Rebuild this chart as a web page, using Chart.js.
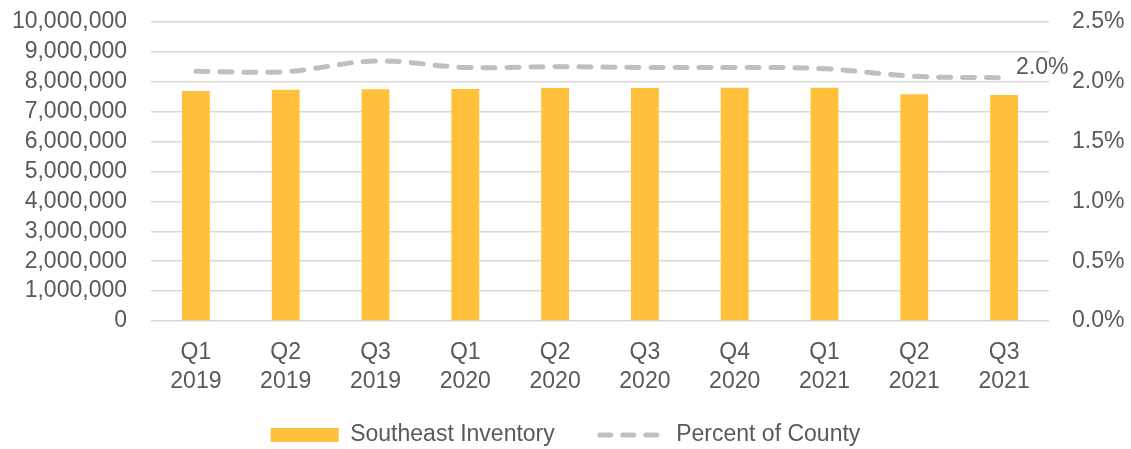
<!DOCTYPE html>
<html>
<head>
<meta charset="utf-8">
<script src="https://cdn.jsdelivr.net/npm/chart.js@4/dist/chart.umd.min.js"></script>
<style>
  html, body { margin: 0; padding: 0; background: #ffffff; }
  #wrap { width: 1131px; height: 449px; }
</style>
</head>
<body>
<div id="wrap"><canvas id="inventoryChart"></canvas></div>
<script>
// Quarter labels (two lines each)
const quarters = ["Q1", "Q2", "Q3", "Q1", "Q2", "Q3", "Q4", "Q1", "Q2", "Q3"];
const years = ["2019", "2019", "2019", "2020", "2020", "2020", "2020", "2021", "2021", "2021"];
// Southeast inventory (sq ft)
const inventory = [7690000, 7730000, 7750000, 7760000, 7790000, 7790000, 7800000, 7800000, 7580000, 7560000];
// Percent of county
const percentOfCounty = [2.088, 2.085, 2.174, 2.12, 2.126, 2.12, 2.12, 2.11, 2.046, 2.034];
const leftTicks = [0, 10000000, 1000000];
const rightTicks = [0, 2.5, 0.5];

const textGrey = "#595959";
const lineGrey = "#BFBFBF";
const fontFamily = "'Liberation Sans', Arial, sans-serif";

// small dashed-line image used as the legend symbol of the line series
const dashSwatch = document.createElement("canvas");
dashSwatch.width = 68;
dashSwatch.height = 8;
(() => {
  const c = dashSwatch.getContext("2d");
  c.strokeStyle = lineGrey;
  c.lineWidth = 5;
  c.lineCap = "round";
  c.setLineDash([11, 12]);
  c.beginPath();
  c.moveTo(3, 4);
  c.lineTo(66, 4);
  c.stroke();
})();

// draws the "2.0%" label beside the last point of the line
const lastPointLabel = {
  id: "lastPointLabel",
  afterDatasetsDraw(chart) {
    const meta = chart.getDatasetMeta(1);
    const pt = meta.data[meta.data.length - 1];
    const ctx = chart.ctx;
    ctx.save();
    ctx.font = "23px " + fontFamily;
    ctx.fillStyle = textGrey;
    ctx.textAlign = "left";
    ctx.textBaseline = "middle";
    const v = percentOfCounty[percentOfCounty.length - 1];
    ctx.fillText(v.toFixed(1) + "%", pt.x + 12, pt.y - 10);
    ctx.restore();
  },
};

new Chart(document.getElementById("inventoryChart"), {
  data: {
    labels: quarters.map((q, i) => [q, years[i]]),
    datasets: [
      {
        type: "bar",
        label: "Southeast Inventory",
        data: inventory,
        backgroundColor: "#FFC13B",
        barPercentage: 0.31,
        categoryPercentage: 1,
        yAxisID: "y",
        order: 2,
        pointStyle: "rect",
      },
      {
        type: "line",
        label: "Percent of County",
        data: percentOfCounty,
        borderColor: lineGrey,
        backgroundColor: lineGrey,
        borderWidth: 5,
        borderDash: [12, 12],
        borderCapStyle: "round",
        tension: 0.35,
        pointRadius: 0,
        yAxisID: "y1",
        order: 1,
        pointStyle: dashSwatch,
      },
    ],
  },
  options: {
    responsive: true,
    maintainAspectRatio: false,
    animation: false,
    layout: { padding: { top: 22, bottom: -7.5, left: 0, right: 0 } },
    scales: {
      x: {
        grid: { display: false },
        border: { display: false },
        ticks: {
          color: textGrey,
          font: { family: fontFamily, size: 23, lineHeight: 1.26 },
          padding: 9,
          maxRotation: 0,
        },
        afterFit: (scale) => { scale.height = 92.5; },
      },
      y: {
        position: "left",
        min: leftTicks[0],
        max: leftTicks[1],
        grid: { color: "#D9D9D9", lineWidth: 1.5, drawTicks: true, tickLength: 24, tickColor: "transparent" },
        border: { display: false },
        ticks: {
          stepSize: leftTicks[2],
          autoSkip: false,
          color: textGrey,
          font: { family: fontFamily, size: 23 },
          padding: 0,
          callback: (v) => v.toLocaleString("en-US"),
        },
        afterFit: (scale) => { scale.width = 151; },
      },
      y1: {
        position: "right",
        min: rightTicks[0],
        max: rightTicks[1],
        grid: { drawOnChartArea: false, drawTicks: true, tickLength: 23, tickColor: "transparent" },
        border: { display: false },
        ticks: {
          stepSize: rightTicks[2],
          autoSkip: false,
          color: textGrey,
          font: { family: fontFamily, size: 23 },
          padding: 0,
          callback: (v) => v.toFixed(1) + "%",
        },
        afterFit: (scale) => { scale.width = 82; },
      },
    },
    plugins: {
      tooltip: { enabled: false },
      legend: {
        position: "bottom",
        labels: {
          usePointStyle: true,
          pointStyleWidth: 68,
          boxHeight: 14,
          color: textGrey,
          font: { family: fontFamily, size: 23 },
          padding: 10,
          sort: (a, b) => a.datasetIndex - b.datasetIndex,
          // extra trailing space widens the gap between the two entries
          generateLabels: (chart) =>
            Chart.defaults.plugins.legend.labels.generateLabels(chart).map((item) => {
              if (item.datasetIndex === 0) item.text += "     ";
              return item;
            }),
        },
      },
    },
  },
  plugins: [lastPointLabel],
});
</script>
</body>
</html>
